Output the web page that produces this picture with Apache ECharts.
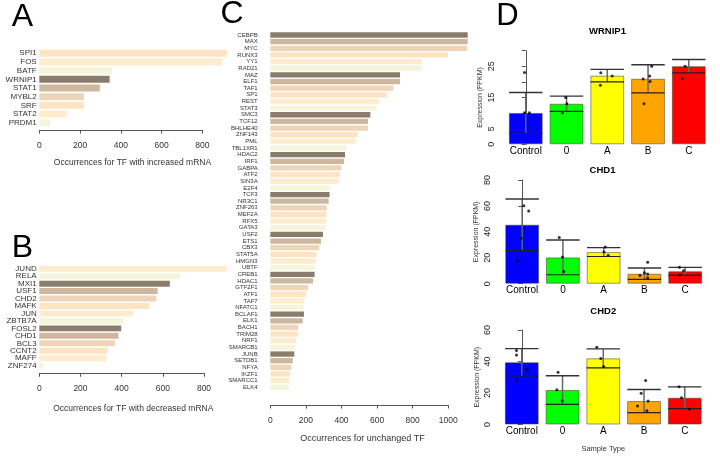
<!DOCTYPE html>
<html><head><meta charset="utf-8">
<script src="https://cdn.jsdelivr.net/npm/echarts@6/dist/echarts.min.js"></script>
<style>html,body{margin:0;padding:0;background:#fff}#c{width:720px;height:463px}</style>
</head><body><div id="c"></div>
<script>
// ---- Panel A: TF with increased mRNA ----
const catA = ['SPI1','FOS','BATF','WRNIP1','STAT1','MYBL2','SRF','STAT2','PRDM1'];
const valA = [921, 897, 356, 345, 297, 219, 219, 134, 54];
// ---- Panel B: TF with decreased mRNA ----
const catB = ['JUND','RELA','MXI1','USF1','CHD2','MAFK','JUN','ZBTB7A','FOSL2','CHD1','BCL3','CCNT2','MAFF','ZNF274'];
const valB = [911, 686, 634, 575, 568, 536, 455, 410, 398, 385, 368, 332, 327, 18];
// ---- Panel C: unchanged TF ----
const catC = ['CEBPB','MAX','MYC','RUNX3','YY1','RAD21','MAZ','ELF1','TAF1','SP1','REST','STAT3',
  'SMC3','TCF12','BHLHE40','ZNF143','PML','TBL1XR1','HDAC2','IRF1','GABPA','ATF2','SIN3A','E2F4',
  'TCF3','NR3C1','ZNF263','MEF2A','RFX5','GATA3','USF2','ETS1','CBX3','STAT5A','HMGN3','UBTF',
  'CREB1','HDAC1','GTF2F1','ATF1','TAF7','NFATC1','BCLAF1','ELK1','BACH1','TRIM28','NRF1','SMARCB1',
  'JUNB','SETDB1','NFYA','IKZF1','SMARCC1','ELK4'];
const valC = [1109, 1109, 1105, 998, 852, 852, 729, 729, 691, 656, 609, 598,
  562, 549, 549, 491, 481, 425, 420, 414, 399, 392, 384, 334,
  333, 328, 317, 315, 313, 311, 296, 285, 275, 261, 255, 251,
  249, 240, 213, 199, 191, 187, 189, 182, 157, 157, 144, 137,
  135, 126, 118, 111, 105, 105];
const ticksAB = [0, 200, 400, 600, 800];
const ticksC = [0, 200, 400, 600, 800, 1000];

// ---- Panel D ----
const sampleTypes = ['Control', '0', 'A', 'B', 'C'];
const wrnip1Mean = [10.05, 13.0, 22.0, 21.0, 25.05];
const wrnip1Sd   = [6.55, 2.45, 2.0, 4.5, 2.15];
const chd1Mean = [45.5, 20.3, 24.4, 7.7, 9.6];
const chd1Sd   = [19.8, 13.4, 3.4, 4.4, 3.0];
const chd2Mean = [39.5, 21.9, 42.0, 14.9, 17.0];
const chd2Sd   = [8.7, 9.1, 6.0, 7.3, 6.9];
// individual samples: [category index, jitter, value]
const wrnip1Pts = [[0,-0.03,23.0],[0,-0.03,10.1],[0,0.09,10.1],
  [1,-0.02,15.0],[1,0.01,13.0],[1,-0.10,10.1],
  [2,-0.16,22.9],[2,0.12,21.9],[2,-0.17,18.9],
  [3,0.09,25.0],[3,0.04,21.9],[3,-0.12,20.9],[3,0.05,20.1],[3,-0.10,13.0],
  [4,-0.09,25.0],[4,-0.16,21.0]];
const chd1Pts = [[0,0.04,60.2],[0,0.16,56.1],[0,-0.03,35.0],[0,-0.11,17.5],
  [1,-0.09,35.7],[1,-0.01,20.6],[1,0.02,9.5],
  [2,0.04,28.3],[2,0.01,24.4],[2,0.11,21.9],
  [3,0.08,16.5],[3,0.0,8.5],[3,0.08,7.5],[3,-0.11,6.4],[3,0.08,4.6],
  [4,-0.14,12.6],[4,-0.04,10.0],[4,-0.13,6.9]];
const chd2Pts = [[0,-0.13,47.0],[0,-0.13,44.2],[0,0.13,35.0],[0,-0.12,27.9],
  [1,-0.11,33.1],[1,-0.14,22.0],[1,-0.01,14.9],
  [2,-0.16,49.0],[2,-0.06,41.9],[2,0.01,36.9],
  [3,0.04,27.9],[3,-0.07,19.9],[3,0.10,14.9],[3,-0.16,11.7],[3,0.07,8.8],
  [4,-0.14,23.9],[4,-0.08,17.0],[4,0.11,9.9]];
const wrnip1Labels = ['0', '5', '15', '25'];

// ---- styles ----
const FONT = 'Liberation Sans, Arial, sans-serif';
const tfPal = ['#8B7D6B', '#CDB79E', '#EED5B7', '#FFE4C4', '#FFEBCD', '#F5F5DC'];
const sampleCols = ['#0000FF', '#00FF00', '#FFFF00', '#FFA500', '#FF0000'];

function tfData(vals) {
  const n = vals.length;
  return vals.map((v, i) => {
    const j = n - 1 - i;
    return { value: v, itemStyle: { color: tfPal[((5 - (j % 6)) + 6) % 6] } };
  });
}

const chart = echarts.init(document.getElementById('c'), null, { renderer: 'canvas' });

function tfValueAxis(gi, max, offset, ticks) {
  return {
    type: 'value', gridIndex: gi, min: 0, max: max, interval: 200, offset: offset,
    axisLine: { show: true, lineStyle: { color: '#555', width: 1 } },
    axisTick: { show: true, length: 3.5, lineStyle: { color: '#555' } },
    axisLabel: { fontSize: 8.5, color: '#333', fontFamily: FONT, margin: 11,
      formatter: v => ticks.indexOf(v) >= 0 ? String(v) : '' },
    splitLine: { show: false }
  };
}
function tfCatAxis(gi, cats, fs, margin) {
  return {
    type: 'category', gridIndex: gi, data: cats, inverse: true,
    axisLine: { show: false }, axisTick: { show: false },
    axisLabel: { fontSize: fs, color: '#333', fontFamily: FONT, margin: margin, interval: 0 }
  };
}
function dCatAxis(gi, name) {
  return {
    type: 'category', gridIndex: gi, data: sampleTypes,
    axisLine: { show: false }, axisTick: { show: false },
    axisLabel: { fontSize: 10, color: '#000', fontFamily: FONT, margin: 2, interval: 0 },
    name: name || '', nameLocation: 'middle', nameGap: 20,
    nameTextStyle: { fontSize: 7.5, color: '#333', fontFamily: FONT }
  };
}
function dHiddenAxis(gi) {
  return { type: 'value', gridIndex: gi, min: -0.5, max: 4.5, show: false, position: 'top' };
}
function dValAxis(gi, max, interval, offset, fmt) {
  return {
    type: 'value', gridIndex: gi, min: 0, max: max, interval: interval, offset: offset,
    axisLine: { show: true, lineStyle: { color: '#555' } },
    axisTick: { show: true, length: 4, lineStyle: { color: '#555' } },
    axisLabel: { rotate: 90, fontSize: 9, color: '#222', fontFamily: FONT, margin: 4,
      formatter: fmt || (v => String(v)) },
    splitLine: { show: false },
    name: 'Expression (FPKM)', nameLocation: 'middle', nameGap: 16, nameRotate: 90,
    nameTextStyle: { fontSize: 7, color: '#333', fontFamily: FONT }
  };
}
function errRender(params, api) {
  const i = api.value(0), m = api.value(1), s = api.value(2);
  const top = api.coord([i, m + s]);
  const bot = api.coord([i, m - s]);
  const hw = api.size([1, 0])[0] * 0.41;
  return { type: 'group', children: [
    { type: 'line', shape: { x1: top[0], y1: top[1], x2: bot[0], y2: bot[1] }, style: { stroke: '#666', lineWidth: 1.5 } },
    { type: 'line', shape: { x1: top[0] - hw, y1: top[1], x2: top[0] + hw, y2: top[1] }, style: { stroke: '#333', lineWidth: 1.4 } },
    { type: 'line', shape: { x1: bot[0] - hw, y1: bot[1], x2: bot[0] + hw, y2: bot[1] }, style: { stroke: '#222', lineWidth: 1.2 } }
  ]};
}
function dSeries(catAxis, valAxis, yIdx, means, sds, pts) {
  return [
    { type: 'bar', xAxisIndex: catAxis, yAxisIndex: yIdx, barCategoryGap: '17%',
      data: means.map((m, i) => ({ value: m, itemStyle: { color: sampleCols[i] } })),
      itemStyle: { borderColor: 'rgba(70,70,40,0.55)', borderWidth: 1 }, silent: true },
    { type: 'custom', xAxisIndex: valAxis, yAxisIndex: yIdx, renderItem: errRender, z: 3,
      data: means.map((m, i) => [i, m, sds[i]]) },
    { type: 'scatter', xAxisIndex: valAxis, yAxisIndex: yIdx, symbolSize: 3, z: 4,
      itemStyle: { color: '#000' }, data: pts.map(p => [p[0] + p[1], p[2]]) }
  ];
}

const W = 203.75;
const option = {
  animation: false,
  grid: [
    { left: 39.3, width: 163.0, top: 48.9, height: 78.2 },       // A
    { left: 39.3, width: 164.7, top: 265, height: 104.4 },       // B
    { left: 270.3, width: 178.0, top: 31.7, height: 358.9 },     // C
    { left: 505.4, width: W, top: 50.7, height: 93.6 },          // WRNIP1
    { left: 501.8, width: W, top: 180, height: 103.7 },          // CHD1
    { left: 501.4, width: W, top: 330, height: 94.5 }            // CHD2
  ],
  xAxis: [
    tfValueAxis(0, 800, 3, ticksAB),
    tfValueAxis(1, 800, 3.9, ticksAB),
    tfValueAxis(2, 1000, 14.4, ticksC),
    dCatAxis(3), dHiddenAxis(3),
    dCatAxis(4), dHiddenAxis(4),
    dCatAxis(5, 'Sample Type'), dHiddenAxis(5)
  ],
  yAxis: [
    tfCatAxis(0, catA, 8, 2.6),
    tfCatAxis(1, catB, 8, 2.6),
    tfCatAxis(2, catC, 6, 12.6),
    dValAxis(3, 30, 5, 5.7, v => wrnip1Labels.indexOf(String(v)) >= 0 ? String(v) : ''),
    dValAxis(4, 80, 20, 5.8),
    dValAxis(5, 60, 20, 4.9)
  ],
  series: [
    { type: 'bar', xAxisIndex: 0, yAxisIndex: 0, data: tfData(valA), barCategoryGap: '20%', clip: false, silent: true },
    { type: 'bar', xAxisIndex: 1, yAxisIndex: 1, data: tfData(valB), barCategoryGap: '20%', clip: false, silent: true },
    { type: 'bar', xAxisIndex: 2, yAxisIndex: 2, data: tfData(valC), barCategoryGap: '20%', clip: false, silent: true },
    ...dSeries(3, 4, 3, wrnip1Mean, wrnip1Sd, wrnip1Pts),
    ...dSeries(5, 6, 4, chd1Mean, chd1Sd, chd1Pts),
    ...dSeries(7, 8, 5, chd2Mean, chd2Sd, chd2Pts)
  ],
  graphic: [
    { type: 'text', x: 22.5, y: 17, style: { text: 'A', fontSize: 32, fontFamily: FONT, fill: '#000', align: 'center', verticalAlign: 'middle' } },
    { type: 'text', x: 22.5, y: 248.5, style: { text: 'B', fontSize: 32, fontFamily: FONT, fill: '#000', align: 'center', verticalAlign: 'middle' } },
    { type: 'text', x: 232, y: 14.5, style: { text: 'C', fontSize: 32, fontFamily: FONT, fill: '#000', align: 'center', verticalAlign: 'middle' } },
    { type: 'text', x: 507.5, y: 16.5, style: { text: 'D', fontSize: 31, fontFamily: FONT, fill: '#000', align: 'center', verticalAlign: 'middle' } },
    { type: 'text', x: 132.5, y: 163, style: { text: 'Occurrences for TF with increased mRNA', fontSize: 8.5, fontFamily: FONT, fill: '#333', align: 'center', verticalAlign: 'middle' } },
    { type: 'text', x: 133.3, y: 408.3, style: { text: 'Occurrences for TF with decreased mRNA', fontSize: 8.5, fontFamily: FONT, fill: '#333', align: 'center', verticalAlign: 'middle' } },
    { type: 'text', x: 362.5, y: 439, style: { text: 'Occurrences for unchanged TF', fontSize: 9, fontFamily: FONT, fill: '#333', align: 'center', verticalAlign: 'middle' } },
    { type: 'text', x: 607.5, y: 31.7, style: { text: 'WRNIP1', fontSize: 9.5, fontWeight: 'bold', fontFamily: FONT, fill: '#000', align: 'center', verticalAlign: 'middle' } },
    { type: 'text', x: 602.5, y: 170, style: { text: 'CHD1', fontSize: 9.5, fontWeight: 'bold', fontFamily: FONT, fill: '#000', align: 'center', verticalAlign: 'middle' } },
    { type: 'text', x: 603.3, y: 311.7, style: { text: 'CHD2', fontSize: 9.5, fontWeight: 'bold', fontFamily: FONT, fill: '#000', align: 'center', verticalAlign: 'middle' } }
  ]
};
chart.setOption(option);
</script></body></html>
